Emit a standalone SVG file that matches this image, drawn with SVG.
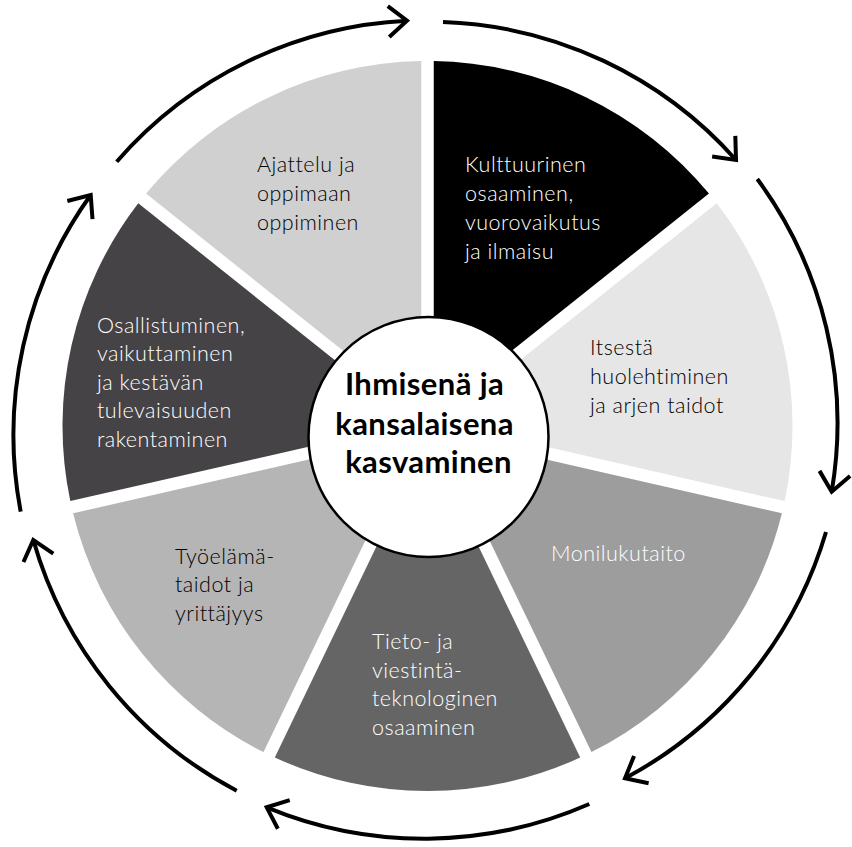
<svg xmlns="http://www.w3.org/2000/svg" width="852" height="847" viewBox="0 0 852 847">
  <defs>
    <style>
      .lbl { font-family: Lato, "Liberation Sans", sans-serif; font-size: 21.5px; font-weight: 300; letter-spacing: 0.5px; }
      .dark { fill: #000000; }
      .light { fill: #ffffff; }
      .core { font-family: Lato, "Liberation Sans", sans-serif; font-size: 31px; font-weight: 700; letter-spacing: 0.4px; fill: #000000; text-anchor: middle; }
      .cycle { fill: none; stroke: #000000; stroke-width: 4; stroke-linecap: butt; }
    </style>
    <marker id="chevron" markerUnits="userSpaceOnUse" orient="auto" refX="0" refY="0" markerWidth="60" markerHeight="60" overflow="visible">
      <path d="M -18.5,-15.5 L 0,0 L -18.5,15.5" fill="none" stroke="#000000" stroke-width="4" stroke-linejoin="miter"/>
    </marker>
  </defs>

  <rect width="852" height="847" fill="#ffffff"/>

  <!-- circular arrows running clockwise round the wheel -->
  <g id="connectors">
    <path class="cycle" marker-end="url(#chevron)" d="M 116.7,161.7 A 411 411 0 0 1 407,20.7"/>
    <path class="cycle" marker-end="url(#chevron)" d="M 443,22 A 411 411 0 0 1 736,160"/>
    <path class="cycle" marker-end="url(#chevron)" d="M 757.3,179 A 411 411 0 0 1 831.7,491.7"/>
    <path class="cycle" marker-end="url(#chevron)" d="M 826,532 A 411 411 0 0 1 625,778.3"/>
    <path class="cycle" marker-end="url(#chevron)" d="M 589.3,804 A 411 411 0 0 1 266.7,807.3"/>
    <path class="cycle" marker-end="url(#chevron)" d="M 236.7,790.7 A 411 411 0 0 1 33.3,540"/>
    <path class="cycle" marker-end="url(#chevron)" d="M 20.7,511.7 A 411 411 0 0 1 90.7,195"/>
  </g>

  <!-- seven sectors of the wheel -->
  <g id="kulttuurinen">
    <path d="M 433.75,413.03 L 433.75,61.05 A 365 365 0 0 1 708.93,193.57 Z" fill="#000000"/>
    <text class="lbl light">
      <tspan x="465" y="172">Kulttuurinen</tspan>
      <tspan x="465" y="201">osaaminen,</tspan>
      <tspan x="465" y="230">vuorovaikutus</tspan>
      <tspan x="465" y="259">ja ilmaisu</tspan>
    </text>
  </g>

  <g id="itsesta">
    <path d="M 441.54,422.80 L 716.73,203.35 A 365 365 0 0 1 784.69,501.12 Z" fill="#e6e6e6"/>
    <text class="lbl dark">
      <tspan x="590" y="355">Itsestä</tspan>
      <tspan x="590" y="384">huolehtiminen</tspan>
      <tspan x="590" y="413">ja arjen taidot</tspan>
    </text>
  </g>

  <g id="monilukutaito">
    <path d="M 438.76,434.98 L 781.91,513.30 A 365 365 0 0 1 591.47,752.10 Z" fill="#9d9d9d"/>
    <text class="lbl light">
      <tspan x="551" y="561">Monilukutaito</tspan>
    </text>
  </g>

  <g id="tieto">
    <path d="M 427.5,440.4 L 580.21,757.52 A 365 365 0 0 1 274.79,757.52 Z" fill="#656565"/>
    <text class="lbl light">
      <tspan x="372" y="649">Tieto- ja</tspan>
      <tspan x="372" y="677.5">viestintä-</tspan>
      <tspan x="372" y="706">teknologinen</tspan>
      <tspan x="372" y="734.5">osaaminen</tspan>
    </text>
  </g>

  <g id="tyoelama">
    <path d="M 416.24,434.98 L 263.53,752.10 A 365 365 0 0 1 73.09,513.30 Z" fill="#b5b5b5"/>
    <text class="lbl dark">
      <tspan x="175" y="563.5">Työelämä-</tspan>
      <tspan x="175" y="592">taidot ja</tspan>
      <tspan x="175" y="620.5">yrittäjyys</tspan>
    </text>
  </g>

  <g id="osallistuminen">
    <path d="M 413.46,422.80 L 70.31,501.12 A 365 365 0 0 1 138.27,203.35 Z" fill="#454345"/>
    <text class="lbl light">
      <tspan x="97" y="332.5">Osallistuminen,</tspan>
      <tspan x="97" y="361">vaikuttaminen</tspan>
      <tspan x="97" y="389.5">ja kestävän</tspan>
      <tspan x="97" y="418">tulevaisuuden</tspan>
      <tspan x="97" y="446.5">rakentaminen</tspan>
    </text>
  </g>

  <g id="ajattelu">
    <path d="M 421.25,413.03 L 146.07,193.57 A 365 365 0 0 1 421.25,61.05 Z" fill="#d0d0d0"/>
    <text class="lbl dark">
      <tspan x="257" y="172">Ajattelu ja</tspan>
      <tspan x="257" y="201">oppimaan</tspan>
      <tspan x="257" y="230">oppiminen</tspan>
    </text>
  </g>

  <!-- hub -->
  <g id="hub">
    <circle cx="428.5" cy="437" r="120" fill="#ffffff" stroke="#000000" stroke-width="2.5"/>
    <text class="core">
      <tspan x="428.5" y="395">Ihmisenä ja</tspan>
      <tspan x="428.5" y="434.5">kansalaisena</tspan>
      <tspan x="428.5" y="473">kasvaminen</tspan>
    </text>
  </g>
</svg>
